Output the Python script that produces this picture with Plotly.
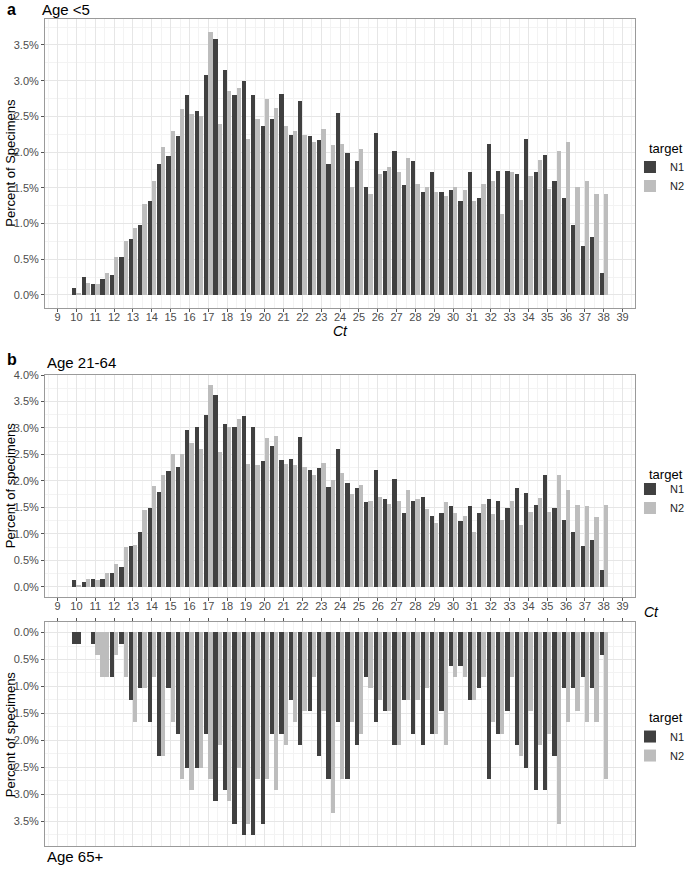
import plotly.graph_objects as go

# ---------------- data ----------------
ct_bins = [10, 10.5, 11, 11.5, 12, 12.5, 13, 13.5, 14, 14.5, 15, 15.5, 16, 16.5, 17, 17.5,
           18, 18.5, 19, 19.5, 20, 20.5, 21, 21.5, 22, 22.5, 23, 23.5, 24, 24.5, 25, 25.5,
           26, 26.5, 27, 27.5, 28, 28.5, 29, 29.5, 30, 30.5, 31, 31.5, 32, 32.5, 33, 33.5,
           34, 34.5, 35, 35.5, 36, 36.5, 37, 37.5, 38]
x_ticks = [9, 10, 11, 12, 13, 14, 15, 16, 17, 18, 19, 20, 21, 22, 23, 24, 25, 26, 27, 28,
           29, 30, 31, 32, 33, 34, 35, 36, 37, 38, 39]

# Panel a: Age <5 (percent of specimens)
a_n1 = [0.10, 0.25, 0.15, 0.22, 0.28, 0.53, 0.78, 0.98, 1.31, 1.84, 1.94, 2.22, 2.80, 2.57,
        3.08, 3.58, 3.15, 2.80, 3.00, 2.80, 2.37, 2.47, 2.82, 2.24, 2.72, 2.22, 2.17, 1.84,
        2.55, 1.99, 1.87, 1.51, 2.27, 1.74, 2.02, 1.54, 1.87, 1.44, 1.72, 1.44, 1.47, 1.31,
        1.72, 1.36, 2.12, 1.74, 1.74, 1.69, 2.19, 1.72, 1.96, 1.59, 1.36, 0.98, 0.68, 0.81, 0.30]
a_n2 = [0.02, 0.17, 0.15, 0.30, 0.53, 0.76, 0.93, 1.28, 1.59, 2.07, 2.30, 2.60, 2.54, 2.50,
        3.68, 2.39, 2.85, 2.90, 2.19, 2.47, 2.75, 2.62, 2.37, 2.29, 2.24, 2.14, 2.32, 2.10,
        2.12, 1.51, 2.04, 1.41, 1.69, 1.79, 1.72, 1.92, 1.56, 1.51, 1.44, 1.39, 1.51, 1.47,
        1.31, 1.56, 1.59, 1.13, 1.72, 1.33, 1.67, 1.89, 1.49, 2.02, 2.14, 1.51, 1.59, 1.41, 1.41]

# Panel b: Age 21-64
b_n1 = [0.125, 0.094, 0.15, 0.15, 0.25, 0.38, 0.76, 1.03, 1.49, 1.79, 2.19, 2.26, 2.96, 3.01,
        3.24, 3.63, 3.08, 3.01, 3.22, 3.01, 2.37, 2.65, 2.40, 2.42, 2.83, 2.21, 2.24, 1.88,
        2.60, 1.96, 1.86, 1.60, 2.21, 1.65, 2.03, 1.39, 1.62, 1.70, 1.34, 1.39, 1.52, 1.24,
        1.52, 1.39, 1.65, 1.62, 1.49, 1.86, 1.77, 1.55, 2.11, 1.49, 1.26, 1.03, 0.77, 0.88, 0.31]
b_n2 = [0.02, 0.15, 0.125, 0.25, 0.43, 0.75, 0.78, 1.44, 1.91, 2.11, 2.51, 2.51, 2.72, 2.60,
        3.81, 2.55, 3.01, 3.17, 2.31, 2.29, 2.81, 2.85, 2.31, 2.29, 2.27, 2.11, 2.34, 2.01,
        2.14, 1.75, 1.93, 1.61, 1.70, 1.57, 1.61, 1.82, 1.65, 1.47, 1.21, 1.60, 1.39, 1.34,
        1.03, 1.57, 1.37, 1.26, 1.62, 1.16, 1.42, 1.67, 1.42, 2.11, 1.82, 1.55, 1.52, 1.31, 1.55]

# Panel c: Age 65+ (drawn downward)
c_n1 = [0.21, None, 0.21, None, 0.83, 0.21, 1.25, 1.04, 1.67, 2.30, 1.04, 1.88, 2.51, 2.51,
        1.88, 3.13, 2.93, 3.56, 3.77, 3.77, 3.56, 1.88, 1.88, 1.25, 2.09, 1.46, 2.30, 2.72,
        1.67, 2.72, 2.09, 0.83, 1.67, 1.46, 2.09, 1.25, 1.88, 2.09, 1.88, 1.46, 0.63, 0.63,
        1.25, 1.04, 2.72, 1.88, 1.46, 2.09, 2.51, 2.93, 2.93, 2.30, 1.04, 1.04, 0.83, 1.04, 0.42]
c_n2 = [None, None, 0.42, 0.83, 0.42, 0.83, 1.67, 1.04, 0.83, 2.30, 1.67, 2.72, 2.93, 2.51,
        2.72, 2.09, 3.13, 2.51, 3.56, 2.72, 2.72, 2.93, 2.09, 1.67, 1.46, 0.83, 1.46, 3.35,
        2.72, 1.67, 1.88, 1.04, 1.25, 1.46, 2.09, 1.25, 1.25, 1.04, 1.88, 2.09, 0.83, 0.83,
        1.25, 0.83, 1.67, 1.88, 0.83, 2.30, 1.46, 2.09, 1.88, 3.56, 1.67, 1.46, 1.67, 1.67, 2.72]

targets = ["N1", "N2"]
colors = {"N1": "#404040", "N2": "#BDBDBD"}

# ---------------- styling ----------------
FONT = "Liberation Sans, Arial, sans-serif"
TICKCOL = "#4D4D4D"
GRID = "#E6E6E6"
MINOR = "#F3F3F3"
BORDER = "#9A9A9A"
BW = 0.45  # dodge width within a 0.5 bin

fig = go.Figure()


def dodge(own, other, base_off):
    widths, offsets = [], []
    for v, o in zip(own, other):
        if o is None:
            widths.append(BW)
            offsets.append(-BW / 2)
        else:
            widths.append(BW / 2)
            offsets.append(base_off)
    return widths, offsets


panels = [("x", "y", "legend", a_n1, a_n2),
          ("x2", "y2", "legend2", b_n1, b_n2),
          ("x3", "y3", "legend3", c_n1, c_n2)]

for xa, ya, lg, n1, n2 in panels:
    for name, own, other in (("N1", n1, n2), ("N2", n2, n1)):
        base_off = -BW / 2 if name == "N1" else 0.0
        w, off = dodge(own, other, base_off)
        fig.add_trace(go.Bar(
            x=ct_bins, y=own, name=name, xaxis=xa, yaxis=ya, legend=lg,
            width=w, offset=off, marker=dict(color=colors[name], line=dict(width=0)),
            showlegend=True, hoverinfo="x+y+name",
        ))

xcommon = dict(range=[8.33, 39.66], tickvals=x_ticks, ticks="outside", ticklen=3,
               tickcolor="#555555", showgrid=True, gridcolor=GRID, gridwidth=1,
               minor=dict(dtick=0.5, tick0=9, showgrid=True, gridcolor=MINOR, gridwidth=1),
               showline=True, linecolor=BORDER, linewidth=1, mirror=True, zeroline=False,
               ticklabelstandoff=-4,
               tickfont=dict(family=FONT, size=11, color=TICKCOL), domain=[0, 1])
ycommon = dict(ticks="outside", ticklen=3, tickcolor="#555555", showgrid=True,
               gridcolor=GRID, gridwidth=1,
               minor=dict(dtick=0.25, tick0=0, showgrid=True, gridcolor=MINOR, gridwidth=1),
               showline=True, linecolor=BORDER, linewidth=1, mirror=True, zeroline=False,
               tickfont=dict(family=FONT, size=11, color=TICKCOL), ticksuffix="%",
               tickformat=".1f")

fig.update_layout(
    width=685, height=870,
    margin=dict(l=45, r=50, t=19, b=24, autoexpand=False),
    paper_bgcolor="white", plot_bgcolor="white",
    barmode="overlay", bargap=0,
    font=dict(family=FONT, size=11, color="black"),
    xaxis=dict(xcommon, anchor="y"),
    yaxis=dict(ycommon, domain=[0.6505, 1.0], range=[-0.184, 3.864], dtick=0.5, anchor="x"),
    xaxis2=dict(xcommon, anchor="y2"),
    yaxis2=dict(ycommon, domain=[0.3014, 0.5695], range=[-0.19, 4.0], dtick=0.5, anchor="x2"),
    xaxis3=dict(xcommon, anchor="y3", side="top", showticklabels=False),
    yaxis3=dict(ycommon, domain=[0.0, 0.2705], range=[3.96, -0.19], dtick=0.5, anchor="x3"),
)

leg = dict(x=0.9915, xanchor="left", yanchor="top", bgcolor="rgba(0,0,0,0)",
           font=dict(family=FONT, size=11, color="#222222"), tracegroupgap=0)
fig.update_layout(
    legend=dict(leg, y=0.8386),
    legend2=dict(leg, y=0.4492),
    legend3=dict(leg, y=0.1499),
)

def ann(text, x, y, size=13, xanchor="left", angle=0, bold=False, italic=False):
    t = text
    if bold:
        t = "<b>" + t + "</b>"
    if italic:
        t = "<i>" + t + "</i>"
    fig.add_annotation(text=t, x=x, y=y, xref="paper", yref="paper", showarrow=False,
                       xanchor=xanchor, yanchor="middle", textangle=angle,
                       font=dict(family=FONT, size=size, color="black"))

# legend titles
for ly in (0.844, 0.4498, 0.1548):
    ann("target", 1.0195, ly, size=13)

ann("a", -0.068, 1.012, size=16, bold=True)
ann("Age <5", -0.008, 1.011, size=15)
ann("Ct", 0.5, 0.6225, size=14, xanchor="center", italic=True)
ann("Percent of Specimens", -0.058, 0.826, size=13, xanchor="center", angle=-90)

ann("b", -0.068, 0.588, size=16, bold=True)
ann("Age 21-64", 0.0, 0.585, size=15)
ann("Ct", 1.012, 0.283, size=14, italic=True)
ann("Percent of specimens", -0.058, 0.436, size=13, xanchor="center", angle=-90)

ann("Age 65+", 0.0, -0.013, size=15)
ann("Percent of specimens", -0.058, 0.135, size=13, xanchor="center", angle=-90)

fig.write_html("out.html", config={"displayModeBar": False},
               post_script="document.body.style.margin='0';")
